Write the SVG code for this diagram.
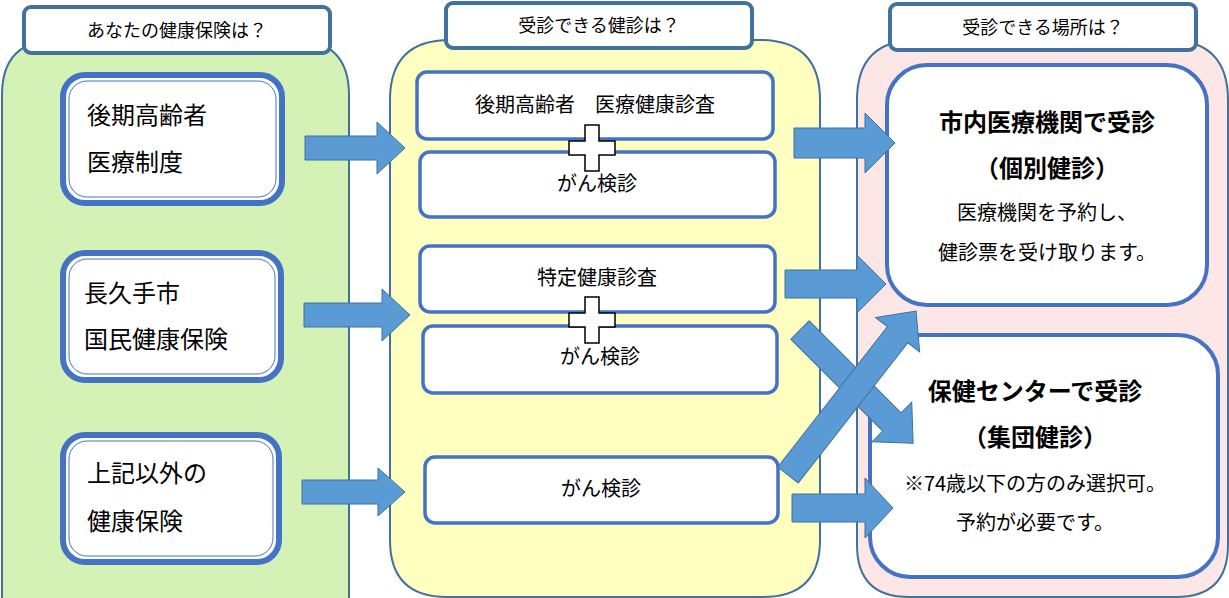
<svg xmlns="http://www.w3.org/2000/svg" width="1229" height="598" viewBox="0 0 1229 598">
<style>
.col{stroke:#41719c;stroke-width:2}
.title{fill:#fff;stroke:#41719c;stroke-width:4}
.ob{fill:#fff;stroke:#4472c4;stroke-width:6}
.ib{fill:none;stroke:#4472c4;stroke-width:1}
.yb{fill:#fff;stroke:#4472c4;stroke-width:3.5}
.pb{fill:#fff;stroke:#4472c4;stroke-width:4}
.arr{fill:#5b9bd5;stroke:#41719c;stroke-width:1}
text{font-family:"Noto Sans CJK JP","Noto Sans",sans-serif;fill:#000}
.t{font-size:18px}
.l{font-size:24px}
.m{font-size:20px}
.b{font-size:24px;font-weight:bold}
</style>
<g id="col-left">
<path class="col" fill="#d5f2b6" d="M2,598 V95 Q2,40 57,40 H294 Q349,40 349,95 V598"/>
<rect class="title" x="24" y="7" width="306" height="46" rx="7"/>
<text class="t" x="177" y="37" text-anchor="middle">あなたの健康保険は？</text>
</g>
<g id="col-mid">
<path class="col" fill="#ffffc0" d="M390,540 V100 Q390,40 450,40 H760 Q820,40 820,100 V540 Q820,597 763,597 H447 Q390,597 390,540Z"/>
<rect class="title" x="446" y="3" width="306" height="45" rx="7"/>
<text class="t" x="599" y="32" text-anchor="middle">受診できる健診は？</text>
</g>
<g id="col-right">
<path class="col" fill="#fde6e6" d="M857,545 V100 Q857,40 917,40 H1168 Q1228,40 1228,100 V545 Q1228,597 1176,597 H909 Q857,597 857,545Z"/>
<rect class="title" x="890" y="4" width="306" height="46" rx="7"/>
<text class="t" x="1043" y="34" text-anchor="middle">受診できる場所は？</text>
</g>
<g id="n-kouki">
<rect class="ob" x="63" y="75" width="219" height="128" rx="22"/>
<rect class="ib" x="69" y="81" width="207" height="116" rx="18"/>
<text class="l" x="87" y="124">後期高齢者</text>
<text class="l" x="87" y="171">医療制度</text>
</g>
<g id="n-kokuho">
<rect class="ob" x="63" y="253" width="218" height="127" rx="22"/>
<rect class="ib" x="69" y="259" width="206" height="115" rx="18"/>
<text class="l" x="84" y="302">長久手市</text>
<text class="l" x="84" y="348">国民健康保険</text>
</g>
<g id="n-other">
<rect class="ob" x="63" y="435" width="216" height="127" rx="22"/>
<rect class="ib" x="69" y="441" width="204" height="115" rx="18"/>
<text class="l" x="87" y="482">上記以外の</text>
<text class="l" x="87" y="530">健康保険</text>
</g>
<g id="n-m1"><rect class="yb" x="417" y="72" width="356" height="67" rx="10"/><text class="m" x="595" y="112" text-anchor="middle">後期高齢者　医療健康診査</text></g>
<g id="n-m2"><rect class="yb" x="420" y="152" width="355" height="65" rx="10"/><text class="m" x="597" y="191" text-anchor="middle">がん検診</text></g>
<g id="n-m3"><rect class="yb" x="420" y="246" width="355" height="66" rx="10"/><text class="m" x="597" y="285" text-anchor="middle">特定健康診査</text></g>
<g id="n-m4"><rect class="yb" x="423" y="326" width="354" height="67" rx="10"/><text class="m" x="600" y="364" text-anchor="middle">がん検診</text></g>
<g id="n-m5"><rect class="yb" x="425" y="457" width="353" height="66" rx="10"/><text class="m" x="601" y="496" text-anchor="middle">がん検診</text></g>
<g id="plus1"><path d="M585,125 H599 V141 H615 V155 H599 V171 H585 V155 H569 V141 H585Z" fill="#fff" stroke="#000" stroke-width="1.5"/></g>
<g id="plus2"><path d="M585,297 H599 V313 H615 V327 H599 V343 H585 V327 H569 V313 H585Z" fill="#fff" stroke="#000" stroke-width="1.5"/></g>
<g id="n-kobetsu">
<rect class="pb" x="887" y="65" width="320" height="240" rx="40"/>
<text class="b" x="1047" y="131" text-anchor="middle">市内医療機関で受診</text>
<text class="b" x="1047" y="177" text-anchor="middle">（個別健診）</text>
<text class="m" x="1047" y="220" text-anchor="middle">医療機関を予約し、</text>
<text class="m" x="1047" y="260" text-anchor="middle">健診票を受け取ります。</text>
</g>
<g id="n-shudan">
<rect class="pb" x="870" y="335" width="348" height="242" rx="40"/>
<text class="b" x="1035" y="400" text-anchor="middle">保健センターで受診</text>
<text class="b" x="1035" y="446" text-anchor="middle">（集団健診）</text>
<text class="m" x="1035" y="491" text-anchor="middle">※74歳以下の方のみ選択可。</text>
<text class="m" x="1035" y="530" text-anchor="middle">予約が必要です。</text>
</g>
<g id="connectors">
<path class="arr" d="M305,136 H377 V122 L405,148 L377,174 V160 H305Z"/>
<path class="arr" d="M304,303 H382 V289 L410,315 L382,341 V327 H304Z"/>
<path class="arr" d="M302,480 H378 V468 L405,492 L378,516 V504 H302Z"/>
<path class="arr" d="M794,128 H865 V113 L895,143 L865,173 V158 H794Z"/>
<path class="arr" d="M785,270 H857 V255 L886,284 L857,313 V298 H785Z"/>
<path class="arr" d="M792,494 H865 V478 L893,508 L865,538 V522 H792Z"/>
<path class="arr" transform="translate(800,330) rotate(45)" d="M0,-13 H130 V-28 L160,0 L130,28 V13 H0Z"/>
<path class="arr" transform="translate(788,475) rotate(-52)" d="M0,-13 H178 V-28 L208,0 L178,28 V13 H0Z"/>
</g>
</svg>
